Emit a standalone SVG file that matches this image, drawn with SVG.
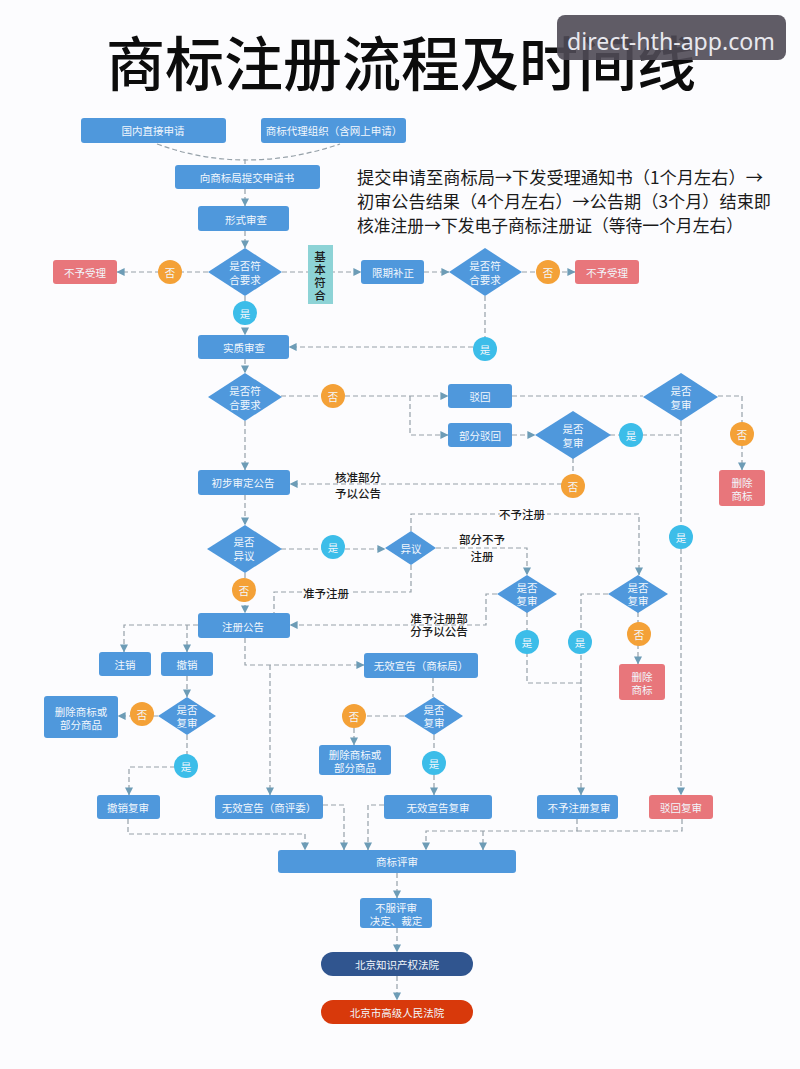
<svg xmlns="http://www.w3.org/2000/svg" width="800" height="1069" viewBox="0 0 800 1069">
<style>
text{font-family:"Noto Sans CJK SC","Noto Sans",sans-serif;text-anchor:middle;dominant-baseline:central}
.b rect,.b path{fill:#4f98dc}
.r rect{fill:#e8767b}
.t{fill:#f2f7fc;font-size:10.5px}
.o circle{fill:#f4a137}
.c circle{fill:#3cbde9}
.k{fill:#1c1c1c;font-size:11.5px;font-weight:500}
.body{fill:#1a1a1a;font-size:17px;text-anchor:start}
#connectors path{fill:none;stroke:#95a0a8;stroke-width:1.2;stroke-dasharray:5 3}
#connectors path.a{marker-end:url(#arrow)}
</style>
<defs>
<marker id="arrow" viewBox="0 0 10 10" refX="9.5" refY="5" markerWidth="8" markerHeight="8" markerUnits="userSpaceOnUse" orient="auto">
<path d="M0 0L10 5L0 10Z" fill="#6d9cb6"/>
</marker>
</defs>
<rect width="800" height="1069" fill="#fcfcfe"/>
<text id="title" x="401" y="60" font-size="59" font-weight="500" fill="#0c0c0c" textLength="590" lengthAdjust="spacingAndGlyphs">商标注册流程及时间线</text>
<g id="connectors">
<path d="M157 144Q245 176 340 144"/>
<path d="M245 159V165"/>
<path class="a" d="M245 189V206"/>
<path class="a" d="M245 231V248"/>
<path class="a" d="M208 272H117"/>
<path class="a" d="M282 272H361"/>
<path class="a" d="M424 272H449"/>
<path class="a" d="M522 272H575"/>
<path class="a" d="M245 296V335"/>
<path d="M485 296V347"/>
<path class="a" d="M473 347H289"/>
<path class="a" d="M245 359V373"/>
<path class="a" d="M281 396H448"/>
<path class="a" d="M410 396V435H448"/>
<path d="M512 396H643"/>
<path class="a" d="M512 435H535"/>
<path d="M610 435H681"/>
<path class="a" d="M718 396H742V470"/>
<path class="a" d="M681 421V795"/>
<path d="M573 458V484"/>
<path class="a" d="M562 484H290"/>
<path class="a" d="M245 421V470"/>
<path class="a" d="M245 495V525"/>
<path class="a" d="M281 549H385"/>
<path class="a" d="M411 531V514H639V575"/>
<path class="a" d="M436 548H527V575"/>
<path d="M411 565V592H274V613"/>
<path class="a" d="M245 573V613"/>
<path class="a" d="M497 594H486V625H290"/>
<path d="M527 612V683H581"/>
<path class="a" d="M608 594H581V795"/>
<path class="a" d="M638 612V664"/>
<path class="a" d="M245 638V665H364"/>
<path class="a" d="M270 665V795"/>
<path class="a" d="M198 625H124V652"/>
<path class="a" d="M187 625V652"/>
<path class="a" d="M187 676V697"/>
<path class="a" d="M158 716H118"/>
<path d="M187 735V767"/>
<path class="a" d="M175 767H129V795"/>
<path d="M433 678V697"/>
<path d="M404 716H354"/>
<path class="a" d="M354 728V745"/>
<path class="a" d="M434 735V795"/>
<path class="a" d="M128 819V834H305V850"/>
<path class="a" d="M323 805H344V850"/>
<path class="a" d="M384 805H368V850"/>
<path class="a" d="M577 819V831H426V850"/>
<path class="a" d="M483 831V850"/>
<path d="M682 819V831H577"/>
<path class="a" d="M397 873V898"/>
<path class="a" d="M397 928V952"/>
<path class="a" d="M397 976V1000"/>
</g>
<g id="n1" class="b"><rect x="81" y="118" width="145" height="25" rx="3"/><text class="t" x="153" y="130">国内直接申请</text></g>
<g id="n2" class="b"><rect x="261" y="118" width="145" height="25" rx="3"/><text class="t" x="334" y="130">商标代理组织（含网上申请）</text></g>
<g id="n3" class="b"><rect x="175" y="165" width="145" height="24" rx="3"/><text class="t" x="247" y="177">向商标局提交申请书</text></g>
<g id="n4" class="b"><rect x="198" y="206" width="91" height="25" rx="3"/><text class="t" x="246" y="219">形式审查</text></g>
<g id="n5" class="b"><path d="M245 248L282 272L245 296L208 272Z"/><text class="t" x="245" y="265">是否符</text><text class="t" x="245" y="279">合要求</text></g>
<g id="n6" class="r"><rect x="53" y="260" width="64" height="24" rx="3"/><text class="t" x="85" y="272">不予受理</text></g>
<g id="n7" class="o"><circle cx="170" cy="272" r="12"/><text class="t" x="170" y="272">否</text></g>
<g id="n8"><rect x="308" y="245" width="25" height="59" fill="#8dd3d6"/><text class="k" x="320" y="256">基</text><text class="k" x="320" y="269">本</text><text class="k" x="320" y="282">符</text><text class="k" x="320" y="295">合</text></g>
<g id="n9" class="b"><rect x="361" y="260" width="63" height="24" rx="3"/><text class="t" x="393" y="272">限期补正</text></g>
<g id="n10" class="b"><path d="M485 248L522 272L485 296L449 272Z"/><text class="t" x="485" y="265">是否符</text><text class="t" x="485" y="279">合要求</text></g>
<g id="n11" class="o"><circle cx="548" cy="272" r="12"/><text class="t" x="548" y="272">否</text></g>
<g id="n12" class="r"><rect x="575" y="260" width="64" height="24" rx="3"/><text class="t" x="607" y="272">不予受理</text></g>
<g id="n13" class="c"><circle cx="245" cy="313" r="12"/><text class="t" x="245" y="313">是</text></g>
<g id="n14" class="b"><rect x="198" y="335" width="91" height="24" rx="3"/><text class="t" x="244" y="347">实质审查</text></g>
<g id="n15" class="c"><circle cx="485" cy="349" r="12"/><text class="t" x="485" y="349">是</text></g>
<g id="n16" class="b"><path d="M245 373L282 397L245 421L208 397Z"/><text class="t" x="245" y="390">是否符</text><text class="t" x="245" y="404">合要求</text></g>
<g id="n17" class="o"><circle cx="333" cy="396" r="12"/><text class="t" x="333" y="396">否</text></g>
<g id="n18" class="b"><rect x="448" y="384" width="64" height="24" rx="3"/><text class="t" x="480" y="396">驳回</text></g>
<g id="n19" class="b"><rect x="448" y="423" width="64" height="24" rx="3"/><text class="t" x="480" y="435">部分驳回</text></g>
<g id="n20" class="b"><path d="M573 411L611 435L573 459L535 435Z"/><text class="t" x="573" y="428">是否</text><text class="t" x="573" y="442">复审</text></g>
<g id="n21" class="c"><circle cx="631" cy="435" r="12"/><text class="t" x="631" y="435">是</text></g>
<g id="n22" class="b"><path d="M681 373L718 397L681 421L643 397Z"/><text class="t" x="681" y="390">是否</text><text class="t" x="681" y="404">复审</text></g>
<g id="n23" class="o"><circle cx="742" cy="434" r="12"/><text class="t" x="742" y="434">否</text></g>
<g id="n24" class="r"><rect x="719" y="470" width="46" height="36" rx="3"/><text class="t" x="742" y="482">删除</text><text class="t" x="742" y="495">商标</text></g>
<g id="n25" class="o"><circle cx="573" cy="486" r="12"/><text class="t" x="573" y="486">否</text></g>
<g id="n26" class="b"><rect x="198" y="470" width="92" height="25" rx="3"/><text class="t" x="243" y="482">初步审定公告</text></g>
<g id="n27" class="b"><path d="M245 525L282 549L245 573L207 549Z"/><text class="t" x="244" y="541">是否</text><text class="t" x="244" y="555">异议</text></g>
<g id="n28" class="c"><circle cx="333" cy="547" r="12"/><text class="t" x="333" y="547">是</text></g>
<g id="n29" class="b"><path d="M411 531L436 548L411 565L385 548Z"/><text class="t" x="411" y="548">异议</text></g>
<g id="n30" class="o"><circle cx="244" cy="590" r="12"/><text class="t" x="244" y="590">否</text></g>
<g id="n31" class="b"><rect x="198" y="613" width="92" height="25" rx="3"/><text class="t" x="243" y="626">注册公告</text></g>
<g id="n32" class="b"><path d="M527 575L557 594L527 613L497 594Z"/><text class="t" x="527" y="587">是否</text><text class="t" x="527" y="600">复审</text></g>
<g id="n33" class="b"><path d="M638 575L668 594L638 613L608 594Z"/><text class="t" x="638" y="587">是否</text><text class="t" x="638" y="600">复审</text></g>
<g id="n34" class="o"><circle cx="639" cy="634" r="12"/><text class="t" x="639" y="634">否</text></g>
<g id="n35" class="r"><rect x="619" y="664" width="46" height="36" rx="3"/><text class="t" x="642" y="676">删除</text><text class="t" x="642" y="689">商标</text></g>
<g id="n36" class="c"><circle cx="527" cy="642" r="12"/><text class="t" x="527" y="642">是</text></g>
<g id="n37" class="c"><circle cx="580" cy="642" r="12"/><text class="t" x="580" y="642">是</text></g>
<g id="n38" class="c"><circle cx="681" cy="537" r="12"/><text class="t" x="681" y="537">是</text></g>
<g id="n39" class="b"><rect x="364" y="653" width="114" height="25" rx="3"/><text class="t" x="421" y="665">无效宣告（商标局）</text></g>
<g id="n40" class="b"><rect x="99" y="652" width="52" height="24" rx="3"/><text class="t" x="125" y="664">注销</text></g>
<g id="n41" class="b"><rect x="161" y="652" width="52" height="24" rx="3"/><text class="t" x="187" y="664">撤销</text></g>
<g id="n42" class="b"><path d="M187 697L216 716L187 735L158 716Z"/><text class="t" x="187" y="709">是否</text><text class="t" x="187" y="722">复审</text></g>
<g id="n43" class="o"><circle cx="142" cy="714" r="12"/><text class="t" x="142" y="714">否</text></g>
<g id="n44" class="b"><rect x="44" y="696" width="74" height="42" rx="3"/><text class="t" x="81" y="711">删除商标或</text><text class="t" x="81" y="724">部分商品</text></g>
<g id="n45" class="c"><circle cx="186" cy="766" r="12"/><text class="t" x="186" y="766">是</text></g>
<g id="n46" class="b"><rect x="97" y="795" width="63" height="24" rx="3"/><text class="t" x="128" y="807">撤销复审</text></g>
<g id="n47" class="b"><rect x="215" y="795" width="108" height="24" rx="3"/><text class="t" x="269" y="807">无效宣告（商评委）</text></g>
<g id="n48" class="o"><circle cx="354" cy="716" r="12"/><text class="t" x="354" y="716">否</text></g>
<g id="n49" class="b"><path d="M434 697L463 716L434 735L404 716Z"/><text class="t" x="434" y="709">是否</text><text class="t" x="434" y="722">复审</text></g>
<g id="n50" class="b"><rect x="319" y="745" width="72" height="30" rx="3"/><text class="t" x="355" y="754">删除商标或</text><text class="t" x="355" y="767">部分商品</text></g>
<g id="n51" class="c"><circle cx="434" cy="763" r="12"/><text class="t" x="434" y="763">是</text></g>
<g id="n52" class="b"><rect x="384" y="795" width="108" height="24" rx="3"/><text class="t" x="438" y="807">无效宣告复审</text></g>
<g id="n53" class="b"><rect x="537" y="795" width="81" height="24" rx="3"/><text class="t" x="579" y="807">不予注册复审</text></g>
<g id="n54" class="r"><rect x="649" y="795" width="64" height="24" rx="3"/><text class="t" x="681" y="807">驳回复审</text></g>
<g id="n55" class="b"><rect x="278" y="850" width="238" height="23" rx="3"/><text class="t" x="397" y="861">商标评审</text></g>
<g id="n56" class="b"><rect x="360" y="898" width="72" height="30" rx="3"/><text class="t" x="396" y="907">不服评审</text><text class="t" x="396" y="920">决定、裁定</text></g>
<g id="n57"><rect x="321" y="952" width="152" height="24" rx="12" fill="#30558f"/><text class="t" x="397" y="964">北京知识产权法院</text></g>
<g id="n58"><rect x="321" y="1000" width="152" height="24" rx="12" fill="#d8390b"/><text class="t" x="397" y="1012">北京市高级人民法院</text></g>
<g id="labels">
<rect x="500" y="508" width="47" height="12" fill="#fcfcfe"/>
<rect x="302" y="587" width="48" height="12" fill="#fcfcfe"/>
<text class="k" x="358" y="477">核准部分</text><text class="k" x="358" y="493">予以公告</text>
<text class="k" x="522" y="514">不予注册</text>
<text class="k" x="482" y="539">部分不予</text><text class="k" x="482" y="556">注册</text>
<text class="k" x="326" y="593">准予注册</text>
<text class="k" x="439" y="618">准予注册部</text><text class="k" x="439" y="631">分予以公告</text>
<text class="body" x="357" y="176" textLength="406" lengthAdjust="spacingAndGlyphs">提交申请至商标局→下发受理通知书（1个月左右）→</text>
<text class="body" x="357" y="200" textLength="414" lengthAdjust="spacingAndGlyphs">初审公告结果（4个月左右）→公告期（3个月）结束即</text>
<text class="body" x="357" y="224" textLength="386" lengthAdjust="spacingAndGlyphs">核准注册→下发电子商标注册证（等待一个月左右）</text>
</g>
<g id="watermark"><rect x="557" y="15" width="229" height="45" rx="8" fill="#4f4a55" fill-opacity=".9"/><text x="671" y="40" font-size="24" fill="#e8e8ee" textLength="208" lengthAdjust="spacingAndGlyphs" style="font-family:'Noto Sans',sans-serif">direct-hth-app.com</text></g>
</svg>
